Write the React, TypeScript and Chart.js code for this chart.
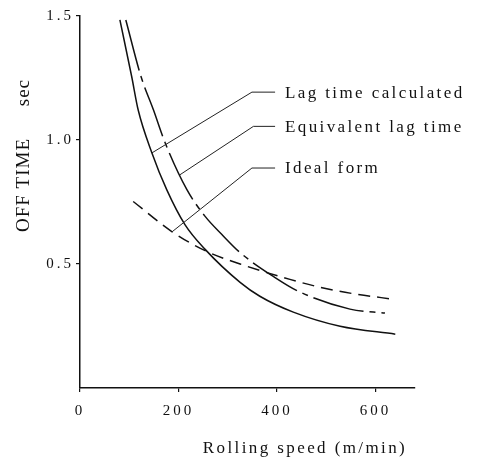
import React, { useEffect, useRef } from "react";
import { Chart, registerables } from "chart.js";

Chart.register(...registerables);

// ---- data ----
const calcSpeed = [81, 105, 118, 146, 176, 213, 254, 325, 365, 433, 528, 640];
const calcTime = [1.484, 1.255, 1.122, 0.948, 0.8, 0.659, 0.559, 0.426, 0.37, 0.306, 0.249, 0.217];

const equivSpeed = [93, 124, 149, 173, 217, 254, 288, 325, 396, 443, 548, 619];
const equivTime = [1.484, 1.255, 1.122, 0.988, 0.8, 0.692, 0.619, 0.546, 0.445, 0.39, 0.318, 0.302];

const idealSpeed = [108, 187, 258, 325, 426, 501, 562, 636];
const idealTime = [0.752, 0.63, 0.55, 0.5, 0.438, 0.4, 0.378, 0.358];

const xTickValues = [0, 200, 400, 600];
const yTickValues = [0.5, 1.0, 1.5];

const seriesLabels = ["Lag time calculated", "Equivalent lag time", "Ideal form"];
// leader lines: from a point on the curve to an elbow, then horizontal to the label
const leaderFromX = [146, 203, 187];
const leaderFromY = [0.948, 0.86, 0.63];
const leaderElbowX = [349, 352, 349];
const leaderElbowY = [1.193, 1.055, 0.887];
const leaderEndX = 396;
const labelStartX = 416;

const xTitle = "Rolling speed (m/min)";
const yTitleMain = "OFF TIME";
const yTitleUnit = "sec";

const SERIF = '"Liberation Serif", "DejaVu Serif", serif';
const INK = "#111";

const toPts = (xs: number[], ys: number[]) => xs.map((x, i) => ({ x, y: ys[i] }));

const annotationPlugin = {
  id: "annotations",
  beforeDraw(chart: any) {
    (chart.ctx as any).letterSpacing = "3px";
  },
  afterDraw(chart: any) {
    const ctx = chart.ctx as CanvasRenderingContext2D & { letterSpacing?: string };
    const xs = chart.scales.x;
    const ys = chart.scales.y;
    ctx.save();
    // leader lines
    ctx.strokeStyle = "#222";
    ctx.lineWidth = 1;
    for (let i = 0; i < seriesLabels.length; i++) {
      const ey = ys.getPixelForValue(leaderElbowY[i]);
      ctx.beginPath();
      ctx.moveTo(xs.getPixelForValue(leaderFromX[i]), ys.getPixelForValue(leaderFromY[i]));
      ctx.lineTo(xs.getPixelForValue(leaderElbowX[i]), ey);
      ctx.lineTo(xs.getPixelForValue(leaderEndX), ey);
      ctx.stroke();
    }
    // labels
    ctx.fillStyle = INK;
    ctx.font = `17px ${SERIF}`;
    ctx.letterSpacing = "2.4px";
    ctx.textAlign = "left";
    ctx.textBaseline = "middle";
    for (let i = 0; i < seriesLabels.length; i++) {
      ctx.fillText(
        seriesLabels[i],
        xs.getPixelForValue(labelStartX),
        ys.getPixelForValue(leaderElbowY[i]) + 1
      );
    }
    // x title
    ctx.font = `17px ${SERIF}`;
    ctx.letterSpacing = "2.4px";
    ctx.textAlign = "center";
    ctx.fillText(xTitle, 305, 449);
    // y title (rotated)
    ctx.save();
    ctx.translate(24, 0);
    ctx.rotate(-Math.PI / 2);
    ctx.font = `19px ${SERIF}`;
    ctx.letterSpacing = "1px";
    ctx.textBaseline = "middle";
    ctx.textAlign = "left";
    ctx.fillText(yTitleMain, -232, 0);
    ctx.textAlign = "right";
    ctx.fillText(yTitleUnit, -80 + 1, 0);
    ctx.restore();
    ctx.restore();
  },
};

export default function App() {
  const ref = useRef<HTMLCanvasElement | null>(null);

  useEffect(() => {
    if (!ref.current) return;
    const lineBase = {
      borderColor: INK,
      borderWidth: 1.5,
      pointRadius: 0,
      fill: false,
      cubicInterpolationMode: "monotone" as const,
    };
    const chart = new Chart(ref.current, {
      type: "line",
      data: {
        datasets: [
          { ...lineBase, label: seriesLabels[0], data: toPts(calcSpeed, calcTime) },
          { ...lineBase, label: seriesLabels[1], data: toPts(equivSpeed, equivTime), borderDash: [52, 6, 6, 6] },
          { ...lineBase, label: seriesLabels[2], data: toPts(idealSpeed, idealTime), borderDash: [12, 7] },
        ],
      },
      options: {
        responsive: false,
        animation: false,
        layout: { padding: { left: 0, top: 16, right: 64, bottom: 0 } },
        plugins: { legend: { display: false }, tooltip: { enabled: false } },
        scales: {
          x: {
            type: "linear",
            min: 0,
            max: 680,
            afterBuildTicks: (s: any) => {
              s.ticks = xTickValues.map((v) => ({ value: v }));
            },
            afterFit: (s: any) => {
              s.height = 72;
            },
            grid: { drawOnChartArea: false, drawTicks: true, tickLength: 4, color: INK, lineWidth: 1.2 },
            border: { display: true, color: INK, width: 1.5 },
            ticks: {
              color: INK,
              font: { family: SERIF, size: 15 },
              padding: 10,
              maxRotation: 0,
              callback: (v: any) => String(v),
            },
          },
          y: {
            type: "linear",
            min: 0,
            max: 1.5,
            afterBuildTicks: (s: any) => {
              s.ticks = yTickValues.map((v) => ({ value: v }));
            },
            afterFit: (s: any) => {
              s.width = 80;
            },
            grid: { drawOnChartArea: false, drawTicks: true, tickLength: 4, color: INK, lineWidth: 1.2 },
            border: { display: true, color: INK, width: 1.5 },
            ticks: {
              color: INK,
              font: { family: SERIF, size: 15 },
              padding: 2,
              callback: (v: any) => Number(v).toFixed(1),
            },
          },
        },
      },
      plugins: [annotationPlugin],
    });
    return () => chart.destroy();
  }, []);

  return (
    <div style={{ position: "absolute", left: 0, top: 0, width: 479, height: 460, background: "#fff" }}>
      <canvas ref={ref} width={479} height={460} style={{ display: "block" }} />
    </div>
  );
}
